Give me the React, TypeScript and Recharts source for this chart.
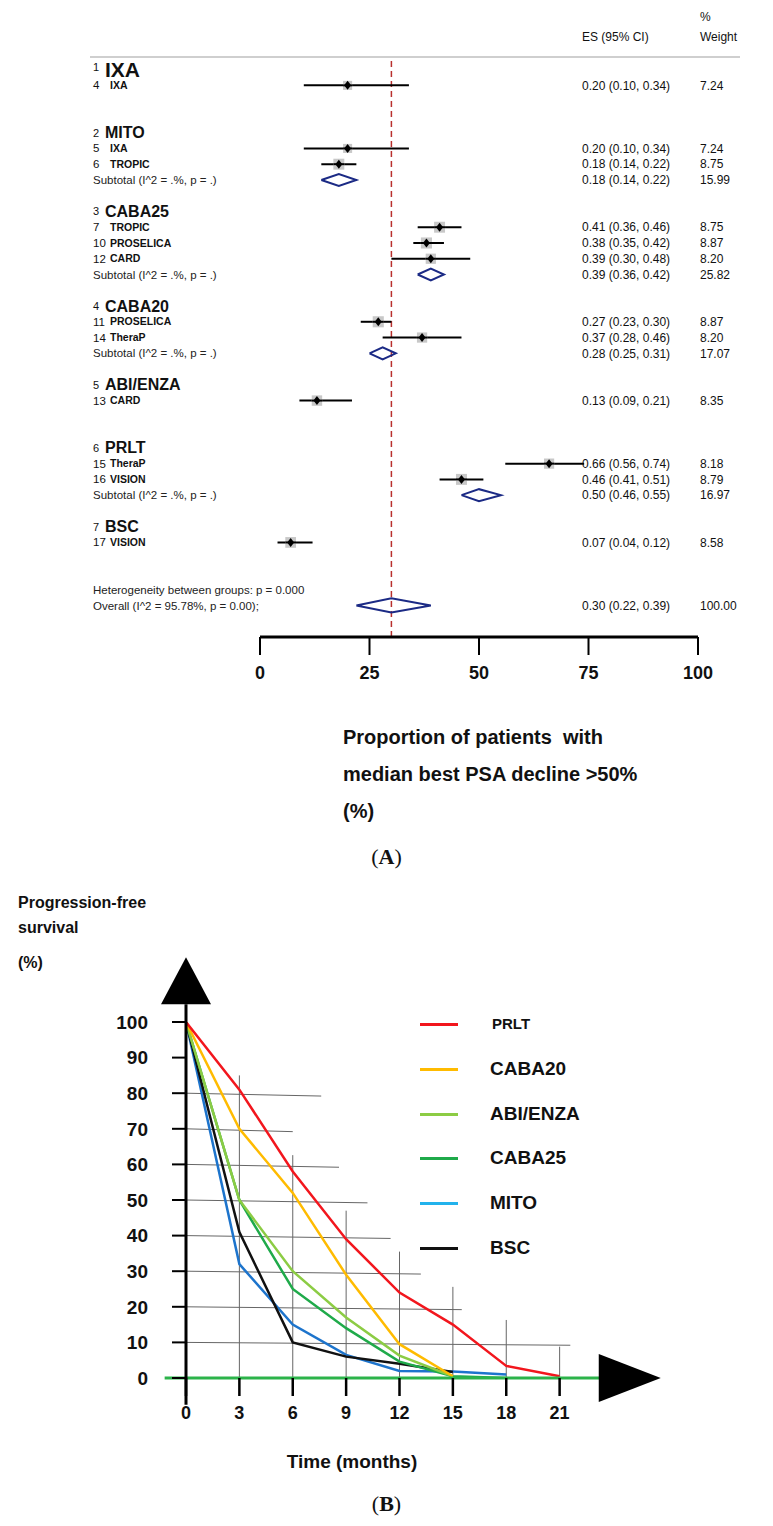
import React from "react";
import {
  ScatterChart,
  Scatter,
  XAxis,
  YAxis,
  ErrorBar,
  ReferenceLine,
  ReferenceDot,
  LineChart,
  Line,
} from "recharts";

const FONT = "'Liberation Sans', Arial, sans-serif";
const NAVY = "#1b2a85";

// ---------- (A) forest plot ----------
const groupRows = [0, 4, 9, 15, 20, 24, 29];
const groupIds = [1, 2, 3, 4, 5, 6, 7];
const groupNames = ["IXA", "MITO", "CABA25", "CABA20", "ABI/ENZA", "PRLT", "BSC"];

const studyRows = [1, 5, 6, 10, 11, 12, 16, 17, 21, 25, 26, 30];
const studyIds = [4, 5, 6, 7, 10, 12, 11, 14, 13, 15, 16, 17];
const studyNames = ["IXA", "IXA", "TROPIC", "TROPIC", "PROSELICA", "CARD", "PROSELICA", "TheraP", "CARD", "TheraP", "VISION", "VISION"];
const studyEs = [0.2, 0.2, 0.18, 0.41, 0.38, 0.39, 0.27, 0.37, 0.13, 0.66, 0.46, 0.07];
const studyLo = [0.1, 0.1, 0.14, 0.36, 0.35, 0.3, 0.23, 0.28, 0.09, 0.56, 0.41, 0.04];
const studyHi = [0.34, 0.34, 0.22, 0.46, 0.42, 0.48, 0.3, 0.46, 0.21, 0.74, 0.51, 0.12];
const studyWeights = ["7.24", "7.24", "8.75", "8.75", "8.87", "8.20", "8.87", "8.20", "8.35", "8.18", "8.79", "8.58"];

const subRows = [7, 13, 18, 27];
const subEs = [0.18, 0.39, 0.28, 0.5];
const subLo = [0.14, 0.36, 0.25, 0.46];
const subHi = [0.22, 0.42, 0.31, 0.55];
const subWeights = ["15.99", "25.82", "17.07", "16.97"];

const overallRow = 34;
const overallEs = 0.3;
const overallLo = 0.22;
const overallHi = 0.39;
const overallWeight = "100.00";
const heteroRow = 33;

const heteroText = "Heterogeneity between groups: p = 0.000";
const overallText = "Overall  (I^2 = 95.78%, p = 0.00);";
const subtotalText = "Subtotal  (I^2 = .%, p = .)";
const forestTicks = [0, 25, 50, 75, 100];

const fmt = (es: number, lo: number, hi: number) =>
  `${es.toFixed(2)} (${lo.toFixed(2)}, ${hi.toFixed(2)})`;

const leftLabels = new Map<number, any>();
groupRows.forEach((r, i) => leftLabels.set(r, { kind: "group", num: groupIds[i], text: groupNames[i], first: i === 0 }));
studyRows.forEach((r, i) => leftLabels.set(r, { kind: "study", num: studyIds[i], text: studyNames[i] }));
subRows.forEach((r) => leftLabels.set(r, { kind: "plain", text: subtotalText }));
leftLabels.set(heteroRow, { kind: "plain", text: heteroText });
leftLabels.set(overallRow, { kind: "plain", text: overallText });

const rightLabels = new Map<number, any>();
studyRows.forEach((r, i) => rightLabels.set(r, { es: fmt(studyEs[i], studyLo[i], studyHi[i]), w: studyWeights[i] }));
subRows.forEach((r, i) => rightLabels.set(r, { es: fmt(subEs[i], subLo[i], subHi[i]), w: subWeights[i] }));
rightLabels.set(overallRow, { es: fmt(overallEs, overallLo, overallHi), w: overallWeight });

const leftTickRows = Array.from(leftLabels.keys()).sort((a, b) => a - b);
const rightTickRows = Array.from(rightLabels.keys()).sort((a, b) => a - b);

const studyPoints = studyRows.map((row, i) => ({
  row,
  x: studyEs[i] * 100,
  err: [(studyEs[i] - studyLo[i]) * 100, (studyHi[i] - studyEs[i]) * 100],
  w: Number(studyWeights[i]),
}));

const diamond = (row: number, es: number, lo: number, hi: number, h: number) => [
  { x: lo * 100, row },
  { x: es * 100, row: row - h },
  { x: hi * 100, row },
  { x: es * 100, row: row + h },
  { x: lo * 100, row },
];
const diamonds = [
  ...subRows.map((r, i) => diamond(r, subEs[i], subLo[i], subHi[i], 0.38)),
  diamond(overallRow, overallEs, overallLo, overallHi, 0.45),
];

function LeftTick(props: any) {
  const { x, y, payload } = props;
  const item = leftLabels.get(payload.value);
  if (!item) return null;
  const x0 = x - 167;
  if (item.kind === "group") {
    return (
      <g fontFamily={FONT}>
        <text x={x0} y={y + (item.first ? -2 : 0)} dy="0.35em" fontSize={11} fill="#111">{item.num}</text>
        <text x={x0 + 12} y={y} dy="0.35em" fontSize={item.first ? 21 : 16} fontWeight={700} fill="#111">{item.text}</text>
      </g>
    );
  }
  if (item.kind === "study") {
    return (
      <g fontFamily={FONT}>
        <text x={x0} y={y} dy="0.35em" fontSize={11.5} fill="#111">{item.num}</text>
        <text x={x0 + 17} y={y} dy="0.35em" fontSize={10.5} fontWeight={700} fill="#111">{item.text}</text>
      </g>
    );
  }
  return (
    <text x={x0} y={y} dy="0.35em" fontSize={11.5} fill="#222" fontFamily={FONT}>{item.text}</text>
  );
}

function RightTick(props: any) {
  const { x, y, payload } = props;
  const item = rightLabels.get(payload.value);
  if (!item) return null;
  return (
    <g fontFamily={FONT} fontSize={12} fill="#111">
      <text x={x - 116} y={y} dy="0.35em">{item.es}</text>
      <text x={x + 2} y={y} dy="0.35em">{item.w}</text>
    </g>
  );
}

function StudyMark(props: any) {
  const { cx, cy, payload } = props;
  const s = payload.w * 1.25;
  return (
    <g>
      <rect x={cx - s / 2} y={cy - s / 2} width={s} height={s} fill="#c8c8c8" />
      <line x1={cx - s / 2} x2={cx + s / 2} y1={cy} y2={cy} stroke="#000" strokeWidth={2} />
      <polygon points={`${cx - 3.5},${cy} ${cx},${cy - 4.5} ${cx + 3.5},${cy} ${cx},${cy + 4.5}`} fill="#000" />
    </g>
  );
}

const NoMark = () => <g />;

// ---------- (B) progression-free survival ----------
const months = [0, 3, 6, 9, 12, 15, 18, 21];
const prlt = [100, 81, 58, 39, 24, 15, 3.4, 0.5];
const caba20 = [100, 70, 52, 29, 9.5, 0.5, null, null];
const abiEnza = [100, 50, 30, 17, 6.3, 0.5, null, null];
const caba25 = [100, 50, 25, 14, 4.6, 0.5, 0, null];
const mito = [100, 32, 15, 6.5, 2, 1.8, 1, null];
const bsc = [100, 41, 10, 6, 4, 1.7, null, null];
const pfsTicks = [0, 10, 20, 30, 40, 50, 60, 70, 80, 90, 100];

const seriesNames = ["PRLT", "CABA20", "ABI/ENZA", "CABA25", "MITO", "BSC"];
const seriesValues = [prlt, caba20, abiEnza, caba25, mito, bsc];
const seriesColors = ["#f2161d", "#ffbb00", "#8ccc44", "#1faa4a", "#1d74cc", "#111111"];
const legendColors = ["#f2161d", "#ffbb00", "#8ccc44", "#1faa4a", "#22b2ec", "#111111"];
const drawOrder = [4, 5, 3, 2, 1, 0];

const pfsData = months.map((m, i) => {
  const row: any = { month: m };
  seriesNames.forEach((n, k) => (row[n] = seriesValues[k][i]));
  return row;
});

// hand-drawn guide lines: horizontal ones end at these months, vertical ones reach these levels
const hGridLevels = [80, 70, 60, 50, 40, 30, 20, 10];
const hGridEnds = [7.6, 6.0, 8.6, 10.2, 11.5, 13.2, 15.5, 21.6];
const vGridMonths = [3, 6, 9, 12, 15, 18, 21];
const vGridTops = [85, 62.6, 47, 35.5, 25.6, 16.3, 8.8];

const UpArrow = (p: any) => (
  <polygon points={`${p.cx - 25},${p.cy} ${p.cx + 25},${p.cy} ${p.cx},${p.cy - 47}`} fill="#000" />
);
const RightArrow = (p: any) => (
  <polygon points={`${p.cx},${p.cy - 24} ${p.cx},${p.cy + 24} ${p.cx + 62},${p.cy}`} fill="#000" />
);

const bold = (size: number) => ({ fontSize: size, fontWeight: 700, fill: "#111", fontFamily: FONT });

export default function App() {
  return (
    <div style={{ position: "absolute", left: 0, top: 0, width: 773, height: 1526, background: "#fff", fontFamily: FONT, color: "#111" }}>
      {/* panel A */}
      <div style={{ position: "absolute", left: 0, top: 0, width: 773, height: 700 }}>
        <div style={{ position: "absolute", left: 700, top: 10, fontSize: 12 }}>%</div>
        <div style={{ position: "absolute", left: 582, top: 30, fontSize: 12 }}>ES (95% CI)</div>
        <div style={{ position: "absolute", left: 700, top: 30, fontSize: 12 }}>Weight</div>
        <div style={{ position: "absolute", left: 90, top: 56, width: 650, height: 2, background: "#cfcfcf" }} />
        <div style={{ position: "absolute", left: 0, top: 0 }}>
          <ScatterChart width={760} height={697} margin={{ top: 57, right: 38, bottom: 0, left: 0 }}>
            <XAxis
              dataKey="x"
              type="number"
              domain={[0, 100]}
              ticks={forestTicks}
              allowDataOverflow
              height={60}
              axisLine={{ stroke: "#000", strokeWidth: 3 }}
              tickLine={{ stroke: "#000", strokeWidth: 2 }}
              tickSize={18}
              tickMargin={11}
              tick={bold(18)}
            />
            <YAxis
              dataKey="row"
              type="number"
              domain={[-0.8, 36]}
              reversed
              allowDataOverflow
              ticks={leftTickRows}
              interval={0}
              width={260}
              axisLine={false}
              tickLine={false}
              tickSize={0}
              tickMargin={0}
              tick={LeftTick}
            />
            <YAxis
              yAxisId="r"
              orientation="right"
              dataKey="row"
              type="number"
              domain={[-0.8, 36]}
              reversed
              allowDataOverflow
              ticks={rightTickRows}
              interval={0}
              width={24}
              axisLine={false}
              tickLine={false}
              tickSize={0}
              tickMargin={0}
              tick={RightTick}
            />
            <ReferenceLine x={overallEs * 100} stroke="#b8302e" strokeWidth={1.5} strokeDasharray="6 4" />
            <Scatter data={studyPoints} shape={StudyMark} isAnimationActive={false}>
              <ErrorBar dataKey="err" direction="x" width={0} stroke="#000" strokeWidth={2} />
            </Scatter>
            {diamonds.map((d, i) => (
              <Scatter
                key={i}
                data={d}
                line={{ stroke: NAVY, strokeWidth: 2 }}
                lineType="joint"
                shape={NoMark}
                isAnimationActive={false}
              />
            ))}
          </ScatterChart>
        </div>
      </div>

      <div style={{ position: "absolute", left: 343, top: 719, fontSize: 20, fontWeight: 700, lineHeight: "37px", whiteSpace: "pre" }}>
        {"Proportion of patients  with\nmedian best PSA decline >50%\n(%)"}
      </div>
      <div style={{ position: "absolute", left: 0, top: 843, width: 773, textAlign: "center", fontFamily: "'Liberation Serif', serif", fontSize: 22, lineHeight: "28px" }}>
        (<b>A</b>)
      </div>

      {/* panel B */}
      <div style={{ position: "absolute", left: 18, top: 890, fontSize: 16, fontWeight: 700, lineHeight: "25px" }}>
        Progression-free
        <br />
        survival
      </div>
      <div style={{ position: "absolute", left: 18, top: 950, fontSize: 16, fontWeight: 700, lineHeight: "25px" }}>(%)</div>

      <div style={{ position: "absolute", left: 0, top: 880 }}>
        <LineChart width={773} height={600} data={pfsData} margin={{ top: 142, right: 160, bottom: 50, left: 0 }}>
          <XAxis
            dataKey="month"
            type="number"
            domain={[0, 24]}
            ticks={months}
            allowDataOverflow
            height={52}
            axisLine={false}
            tickLine={{ stroke: "#000", strokeWidth: 2.5 }}
            tickSize={18}
            tickMargin={10}
            tick={bold(18)}
          />
          <YAxis
            type="number"
            domain={[0, 100]}
            ticks={pfsTicks}
            allowDataOverflow
            width={186}
            axisLine={false}
            tickLine={{ stroke: "#000", strokeWidth: 2 }}
            tickSize={14}
            tickMargin={24}
            tick={bold(19)}
          />
          {hGridLevels.map((lv, i) => (
            <ReferenceLine
              key={"h" + lv}
              segment={[{ x: 0, y: lv }, { x: hGridEnds[i], y: lv - 0.8 }]}
              stroke="#666"
              strokeWidth={1}
              ifOverflow="visible"
            />
          ))}
          {vGridMonths.map((m, i) => (
            <ReferenceLine
              key={"v" + m}
              segment={[{ x: m, y: 0 }, { x: m, y: vGridTops[i] }]}
              stroke="#666"
              strokeWidth={1}
              ifOverflow="visible"
            />
          ))}
          {drawOrder.map((k) => (
            <Line
              key={seriesNames[k]}
              dataKey={seriesNames[k]}
              type="linear"
              stroke={seriesColors[k]}
              strokeWidth={2.5}
              dot={false}
              isAnimationActive={false}
            />
          ))}
          <ReferenceLine segment={[{ x: -1.2, y: 0 }, { x: 23.3, y: 0 }]} stroke="#2cb34a" strokeWidth={3} ifOverflow="visible" />
          <ReferenceLine segment={[{ x: 0, y: 105 }, { x: 0, y: -7.5 }]} stroke="#000" strokeWidth={3} ifOverflow="visible" />
          <ReferenceDot x={0} y={105} ifOverflow="visible" shape={UpArrow} />
          <ReferenceDot x={23.2} y={0} ifOverflow="visible" shape={RightArrow} />
        </LineChart>
      </div>

      <div style={{ position: "absolute", left: 420, top: 1002 }}>
        {seriesNames.map((n, k) => (
          <div key={n} style={{ position: "relative", height: 44.8, width: 200 }}>
            <div style={{ position: "absolute", left: 0, top: 21, width: 38, height: 3, background: legendColors[k] }} />
            <div
              style={{
                position: "absolute",
                left: k === 0 ? 72 : 70,
                top: 0,
                lineHeight: "44px",
                fontSize: k === 0 ? 15 : 19,
                fontWeight: 700,
              }}
            >
              {n}
            </div>
          </div>
        ))}
      </div>

      <div style={{ position: "absolute", left: 252, top: 1450, width: 200, textAlign: "center", fontSize: 19, fontWeight: 700, lineHeight: "24px" }}>
        Time (months)
      </div>
      <div style={{ position: "absolute", left: 0, top: 1490, width: 773, textAlign: "center", fontFamily: "'Liberation Serif', serif", fontSize: 22, lineHeight: "28px" }}>
        (<b>B</b>)
      </div>
    </div>
  );
}
